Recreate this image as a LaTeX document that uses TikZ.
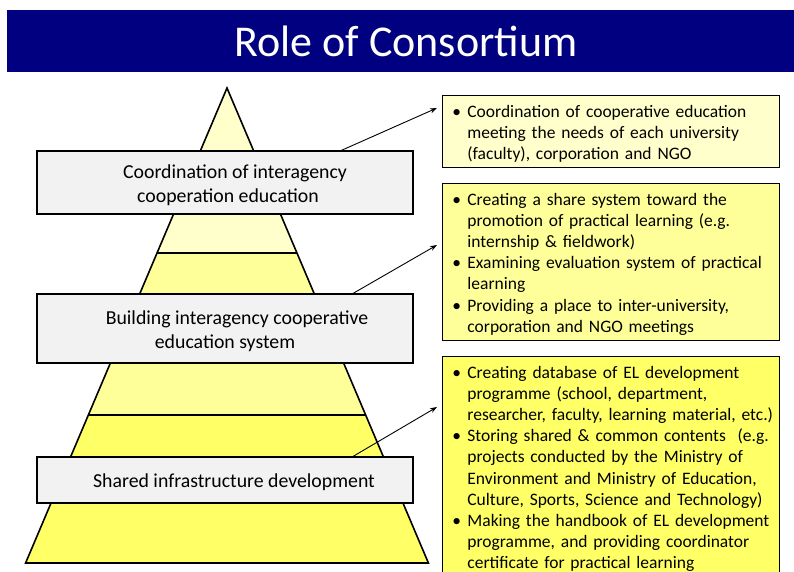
\documentclass[tikz,border=0pt]{standalone}
\usepackage{fontspec}
\setmainfont{Carlito}
\usetikzlibrary{arrows.meta}
\definecolor{navy}{HTML}{000080}
\definecolor{yA}{HTML}{FFFFCC}
\definecolor{yB}{HTML}{FFFF99}
\definecolor{yC}{HTML}{FFFF66}
\definecolor{boxgray}{HTML}{F2F2F2}
\newcommand\bitem{\par\noindent\llap{\makebox[15pt][l]{\textbullet}}}
\newcommand\bsetup{\leftskip=15pt\rightskip=0pt plus 1fil minus 30pt\relax}
\newcommand\lowr[1]{\raisebox{-2.5pt}[\height][\depth]{#1}}
\newcommand\padbottom[1]{\par\vskip#1\hrule height0pt width0pt\relax}
\begin{document}
\begin{tikzpicture}[x=1pt,y=-1pt,
  titlebar/.style={fill=navy,text=white,minimum width=787pt,minimum height=62pt,inner sep=0pt,font=\fontsize{44}{50}\selectfont},
  pyr/.style={line width=1.6pt,line join=miter},
  lbox/.style={draw,line width=1.6pt,fill=boxgray,minimum width=376pt,inner sep=0pt,align=center,font=\fontsize{19.8}{23.5}\selectfont},
  rbox/.style={draw,line width=0.8pt,anchor=north west,text width=317pt,inner xsep=10pt,inner ysep=1pt,align=left,font=\fontsize{17.5}{21.1}\selectfont},
  arr/.style={line width=0.9pt,-{Stealth[length=7pt,width=5pt]}}]
\useasboundingbox (0,0) rectangle (794,572);
% title
\node[titlebar] (title) at (400.5,41) {\hspace*{11pt}Role of Consortium};
% pyramid
\begin{scope}
  \clip (227,88) -- (428.4,563) -- (25.6,563) -- cycle;
  \fill[yA] (0,80) rectangle (794,253);
  \fill[yB] (0,253) rectangle (794,415);
  \fill[yC] (0,415) rectangle (794,570);
  \draw[pyr] (0,253) -- (794,253);
  \draw[pyr] (0,415) -- (794,415);
\end{scope}
\draw[pyr] (227,88) -- (428.4,563) -- (25.6,563) -- cycle;
% pyramid labels
\node[lbox,minimum height=63pt] (b1) at (225,182.5) {\hspace*{20pt}\lowr{Coordination of interagency}\\\hspace*{6pt}\lowr{cooperation education}};
\node[lbox,minimum height=69pt] (b2) at (225,328.5) {\hspace*{24pt}\lowr{Building interagency cooperative}\\\lowr{education system}};
\node[lbox,minimum height=46pt] (b3) at (225,480) {\hspace*{18pt}\lowr{Shared infrastructure development}};
% right boxes
\node[rbox,fill=yA] (r1) at (442,95) {\bsetup
\bitem Coordination of cooperative education\\meeting the needs of each university\\(faculty), corporation and NGO\padbottom{3.7pt}};
\node[rbox,fill=yB] (r2) at (442,183) {\bsetup
\bitem Creating a share system toward the\\promotion of practical learning (e.g.\\internship \& fieldwork)
\bitem Examining evaluation system of practical\\learning
\bitem Providing a place to inter-university,\\corporation and NGO meetings\padbottom{4.7pt}};
\node[rbox,fill=yC] (r3) at (442,356) {\bsetup
\bitem Creating database of EL development\\programme (school, department,\\researcher, faculty, learning material, etc.)
\bitem Storing shared \& common contents~ (e.g.\\projects conducted by the Ministry of\\Environment and Ministry of Education,\\Culture, Sports, Science and Technology)
\bitem Making the handbook of EL development\\programme, and providing coordinator\\certificate for practical learning\par};
% connectors
\coordinate (s1) at (340,151);
\coordinate (t1) at (437,108);
\coordinate (s2) at (352,294);
\coordinate (t2) at (437,245);
\coordinate (s3) at (352,457);
\coordinate (t3) at (437,407);
\draw[arr] (s1) -- (t1);
\draw[arr] (s2) -- (t2);
\draw[arr] (s3) -- (t3);
\end{tikzpicture}
\end{document}
